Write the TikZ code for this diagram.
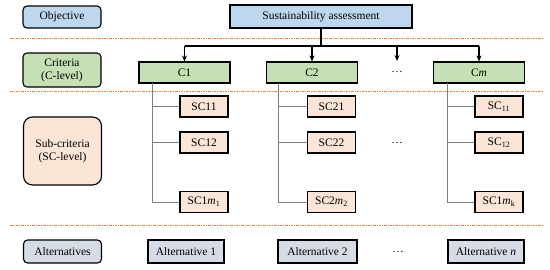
\documentclass[tikz,border=0pt]{standalone}
\usepackage{fontspec}
\setmainfont{Liberation Serif}
\usetikzlibrary{arrows.meta}
\definecolor{objblue}{HTML}{BDD7EE}
\definecolor{critgreen}{HTML}{C5E0B4}
\definecolor{subpeach}{HTML}{FBE5D6}
\definecolor{altgrey}{HTML}{D6DCE5}
\definecolor{sepor}{HTML}{ED7D31}
\definecolor{linegrey}{HTML}{7F7F7F}
\begin{document}
\begin{tikzpicture}[x=1pt,y=-1pt,
  font=\fontsize{11.5}{13}\selectfont,
  box/.style={draw=black, line width=1.1pt, inner sep=0pt, align=center},
  lab/.style={box, rounded corners=4pt, minimum width=78pt},
  cbox/.style={box, fill=critgreen, minimum width=91pt, minimum height=21pt},
  scbox/.style={box, fill=subpeach, minimum width=48pt, minimum height=21pt},
  altbox/.style={box, fill=altgrey, minimum height=23pt},
  sep/.style={draw=sepor, line width=1pt, dash pattern=on 2.5pt off 1pt on 1pt off 1pt},
  main/.style={draw=black, line width=1.2pt},
  arr/.style={main, -{Stealth[length=6pt,width=5pt]}},
  sub/.style={draw=linegrey, line width=1pt},
  dotsnode/.style={inner sep=0pt}
]
\useasboundingbox (0,0) rectangle (550,269);

% separators
\draw[sep] (10,38.5) -- (542,38.5);
\draw[sep] (10,91.5) -- (542,91.5);
\draw[sep] (10,225.5) -- (542,225.5);

% left labels
\node[lab, fill=objblue, minimum height=22pt] (lobj) at (62,17) {Objective};
\node[lab, fill=critgreen, minimum height=34pt] (lcrit) at (62,70) {Criteria\\(C-level)};
\node[lab, fill=subpeach, minimum height=68pt, rounded corners=9pt] (lsub) at (62.5,151) {Sub-criteria\\(SC-level)};
\node[lab, fill=altgrey, minimum height=23pt] (lalt) at (62.5,251.5) {Alternatives};

% objective
\node[box, fill=objblue, minimum width=182pt, minimum height=23pt] (sa) at (321,16.5) {Sustainability assessment};

% criteria
\node[cbox] (c1) at (184.5,72.5) {C1};
\node[cbox] (c2) at (312,72.5) {C2};
\node[cbox] (cm) at (479,72.5) {C\textit{m}};
\node[dotsnode] (cdots) at (397,72) {\dots};
\coordinate (bus) at (321,46);
\coordinate (dotsarr) at (397,61);

\draw[main] (sa.south) -- (bus);
\draw[main] (c1.north |- bus) -- (cm.north |- bus);
\draw[arr] (c1.north |- bus) -- (c1.north);
\draw[arr] (c2.north |- bus) -- (c2.north);
\draw[arr] (dotsarr |- bus) -- (dotsarr);
\draw[arr] (cm.north |- bus) -- (cm.north);

% sub-criteria column 1
\node[scbox] (sc11) at (204,106.5) {SC11};
\node[scbox] (sc12) at (204,142.5) {SC12};
\node[scbox] (sc1m) at (204,202) {SC1\textit{m}\textsubscript{1}};
\coordinate (v1) at (152,83);
\draw[sub] (v1) |- (sc1m.west);
\draw[sub] (v1 |- sc11.west) -- (sc11.west);
\draw[sub] (v1 |- sc12.west) -- (sc12.west);

% column 2
\node[scbox] (sc21) at (331.5,106.5) {SC21};
\node[scbox] (sc22) at (331.5,142.5) {SC22};
\node[scbox] (sc2m) at (331.5,202) {SC2\textit{m}\textsubscript{2}};
\coordinate (v2) at (278,83);
\draw[sub] (v2) |- (sc2m.west);
\draw[sub] (v2 |- sc21.west) -- (sc21.west);
\draw[sub] (v2 |- sc22.west) -- (sc22.west);

\node[dotsnode] (scdots) at (397,143) {\dots};

% column m
\node[scbox] (scm1) at (499,106.5) {SC\textsubscript{11}};
\node[scbox] (scm2) at (499,142.5) {SC\textsubscript{12}};
\node[scbox] (scmk) at (499,202) {SC1\textit{m}\textsubscript{k}};
\coordinate (vm) at (447,83);
\draw[sub] (vm) |- (scmk.west);
\draw[sub] (vm |- scm1.west) -- (scm1.west);
\draw[sub] (vm |- scm2.west) -- (scm2.west);

% alternatives
\node[altbox, minimum width=76pt] (a1) at (186,251.5) {Alternative 1};
\node[altbox, minimum width=79pt] (a2) at (317.5,251.5) {Alternative 2};
\node[dotsnode] (adots) at (398,252) {\dots};
\node[altbox, minimum width=76pt] (an) at (486,251.5) {Alternative \textit{n}};
\end{tikzpicture}
\end{document}
